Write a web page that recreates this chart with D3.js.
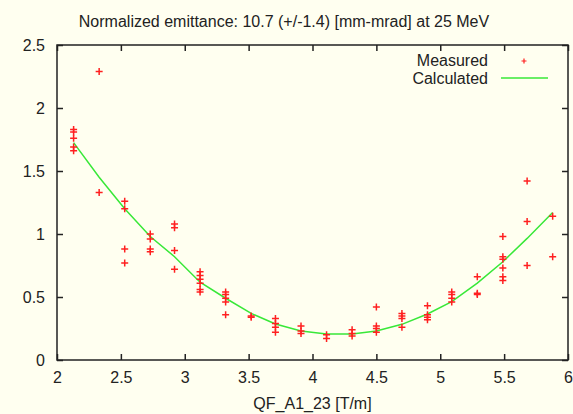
<!DOCTYPE html>
<html>
<head>
<meta charset="utf-8">
<script src="https://cdn.jsdelivr.net/npm/d3@7"></script>
<style>
  body { margin: 0; background: #fffff0; }
  svg { display: block; font-family: "Liberation Sans", Arial, sans-serif; }
</style>
</head>
<body>
<div id="chart"></div>
<script>
// Measured points: one x per column, several y readings per column
const measuredX = [2.13, 2.33, 2.53, 2.73, 2.92, 3.12, 3.32, 3.52, 3.71, 3.91,
  4.11, 4.31, 4.50, 4.70, 4.90, 5.09, 5.29, 5.49, 5.68, 5.88];
const measuredY = [
  [1.83, 1.81, 1.76, 1.69, 1.66],
  [2.29, 1.33],
  [1.26, 1.20, 0.88, 0.77],
  [1.00, 0.96, 0.88, 0.86],
  [1.08, 1.05, 0.87, 0.72],
  [0.70, 0.67, 0.64, 0.61, 0.56, 0.54],
  [0.54, 0.52, 0.49, 0.46, 0.36],
  [0.35, 0.34],
  [0.33, 0.29, 0.26, 0.22],
  [0.27, 0.23, 0.21],
  [0.20, 0.17],
  [0.24, 0.21, 0.19],
  [0.42, 0.27, 0.25, 0.22],
  [0.37, 0.35, 0.33, 0.26],
  [0.43, 0.36, 0.34, 0.32],
  [0.54, 0.52, 0.49, 0.46],
  [0.66, 0.53, 0.52],
  [0.98, 0.82, 0.80, 0.73, 0.66, 0.63],
  [1.42, 1.10, 0.75],
  [1.14, 0.82]
];
// Calculated curve at the same x values
const calculatedY = [1.725, 1.45, 1.20, 0.98, 0.82, 0.617, 0.49, 0.37, 0.286, 0.23,
  0.206, 0.206, 0.23, 0.283, 0.365, 0.463, 0.61, 0.78, 0.965, 1.17];

const xTicks = [2, 2.5, 3, 3.5, 4, 4.5, 5, 5.5, 6];
const yTicks = [0, 0.5, 1, 1.5, 2, 2.5];

const titleText = "Normalized emittance: 10.7 (+/-1.4) [mm-mrad] at 25 MeV";
const xLabel = "QF_A1_23 [T/m]";

const W = 573, H = 414;
const margin = { top: 45, right: 5, bottom: 54, left: 57 };
const width = W - margin.left - margin.right;
const height = H - margin.top - margin.bottom;

const svg = d3.select("#chart").append("svg")
  .attr("width", W).attr("height", H);

svg.append("rect").attr("width", W).attr("height", H).attr("fill", "#fffff0");

const g = svg.append("g")
  .attr("transform", `translate(${margin.left},${margin.top})`);

const x = d3.scaleLinear().domain([2, 6]).range([0, width]);
const y = d3.scaleLinear().domain([0, 2.5]).range([height, 0]);

const fmt = d => d3.format("")(d);
const tickLen = 6;
const axisColor = "#222";

// Axes (ticks drawn inward, mirrored on top and right)
const xAxis = g.append("g").attr("transform", `translate(0,${height})`)
  .call(d3.axisBottom(x).tickValues(xTicks).tickFormat(fmt).tickSize(-tickLen).tickPadding(12));
const xAxisTop = g.append("g")
  .call(d3.axisTop(x).tickValues(xTicks).tickFormat("").tickSize(-tickLen));
const yAxis = g.append("g")
  .call(d3.axisLeft(y).tickValues(yTicks).tickFormat(fmt).tickSize(-tickLen).tickPadding(12));
const yAxisRight = g.append("g").attr("transform", `translate(${width},0)`)
  .call(d3.axisRight(y).tickValues(yTicks).tickFormat("").tickSize(-tickLen));

[xAxis, xAxisTop, yAxis, yAxisRight].forEach(a => {
  a.select(".domain").remove();
  a.selectAll("line").attr("stroke", axisColor).attr("stroke-width", 1.5);
  a.selectAll("text").attr("fill", "#222").style("font-size", "16px")
    .style("font-family", "Liberation Sans, Arial, sans-serif");
});

g.append("rect")
  .attr("width", width).attr("height", height)
  .attr("fill", "none").attr("stroke", axisColor).attr("stroke-width", 1.5);

// Calculated curve
const curveData = measuredX.map((d, i) => [d, calculatedY[i]]);
g.append("path")
  .datum(curveData)
  .attr("fill", "none")
  .attr("stroke", "#38e838")
  .attr("stroke-width", 1.5)
  .attr("d", d3.line().x(d => x(d[0])).y(d => y(d[1])));

// Measured points as "+" markers
const points = [];
measuredX.forEach((xv, i) => measuredY[i].forEach(yv => points.push([xv, yv])));
const cross = 3.5;
g.append("g").selectAll("path")
  .data(points)
  .enter().append("path")
  .attr("d", d => {
    const px = x(d[0]), py = y(d[1]);
    return `M${px - cross},${py}H${px + cross}M${px},${py - cross}V${py + cross}`;
  })
  .attr("stroke", "#ff2020")
  .attr("stroke-width", 1.5)
  .attr("fill", "none");

// Legend
const legend = svg.append("g").style("font-size", "16px").attr("fill", "#222");
legend.append("text").attr("x", 488).attr("y", 66).attr("text-anchor", "end").text("Measured");
legend.append("text").attr("x", 488).attr("y", 84).attr("text-anchor", "end").text("Calculated");
legend.append("path")
  .attr("d", `M${524 - 2.5},61H${524 + 2.5}M524,${61 - 2.5}V${61 + 2.5}`)
  .attr("stroke", "#ff2020").attr("stroke-width", 1.2);
legend.append("line")
  .attr("x1", 501).attr("x2", 548).attr("y1", 78).attr("y2", 78)
  .attr("stroke", "#38e838").attr("stroke-width", 1.5);

// Title and x label
svg.append("text")
  .attr("x", 284).attr("y", 27).attr("text-anchor", "middle")
  .style("font-size", "16px").attr("fill", "#222")
  .text(titleText);
svg.append("text")
  .attr("x", margin.left + width / 2).attr("y", 409).attr("text-anchor", "middle")
  .style("font-size", "16px").attr("fill", "#222")
  .text(xLabel);
</script>
</body>
</html>
